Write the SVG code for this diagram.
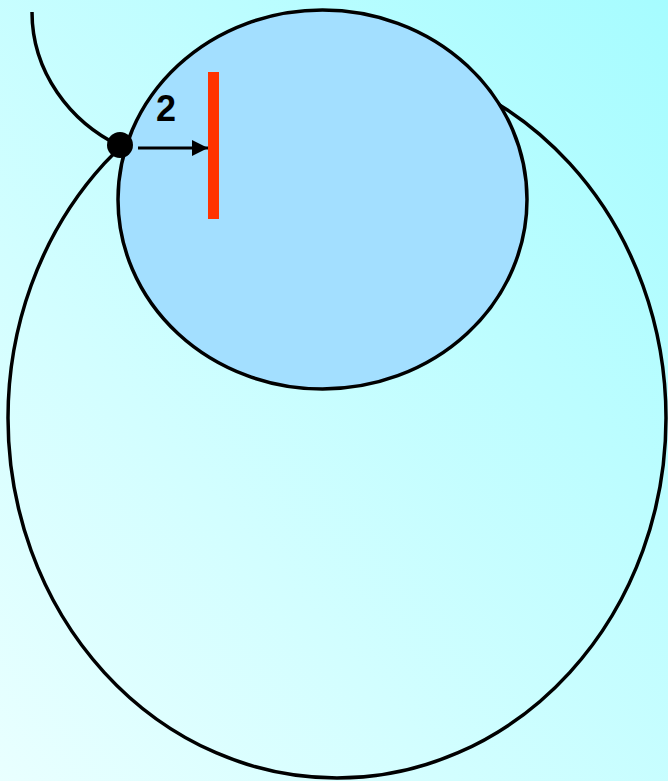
<svg xmlns="http://www.w3.org/2000/svg" width="668" height="781" viewBox="0 0 668 781">
  <defs>
    <linearGradient id="bg" x1="0" y1="1" x2="1" y2="0">
      <stop offset="0" stop-color="#e9ffff"/>
      <stop offset="1" stop-color="#a6fcff"/>
    </linearGradient>
    <marker id="ah" viewBox="0 0 16 16" markerWidth="16" markerHeight="16" refX="16" refY="8" markerUnits="userSpaceOnUse" orient="auto">
      <path d="M0,0 L16,8 L0,16 Z" fill="#000"/>
    </marker>
    <style>
      .ln { fill: none; stroke: #000; stroke-width: 3.5; }
    </style>
  </defs>
  <rect x="0" y="0" width="668" height="781" fill="url(#bg)"/>
  <g id="outer-ellipse">
    <ellipse cx="337" cy="418" rx="329" ry="360" class="ln"/>
  </g>
  <g id="inner-ellipse">
    <ellipse cx="322.5" cy="199.5" rx="204.5" ry="189.5" fill="#a3dfff" stroke="#000" stroke-width="3.5"/>
  </g>
  <g id="connectors">
    <path d="M32,12 C32,72 70,122 120,146" class="ln"/>
    <line x1="138" y1="148" x2="208" y2="148" stroke="#000" stroke-width="3" marker-end="url(#ah)"/>
  </g>
  <g id="dot">
    <circle cx="120" cy="145" r="13" fill="#000"/>
  </g>
  <g id="barrier">
    <rect x="208" y="72" width="11" height="147" fill="#ff3300"/>
  </g>
  <g id="label">
    <text x="156" y="121" font-family="Liberation Sans, Arial, sans-serif" font-weight="bold" font-size="36" fill="#000">2</text>
  </g>
</svg>
